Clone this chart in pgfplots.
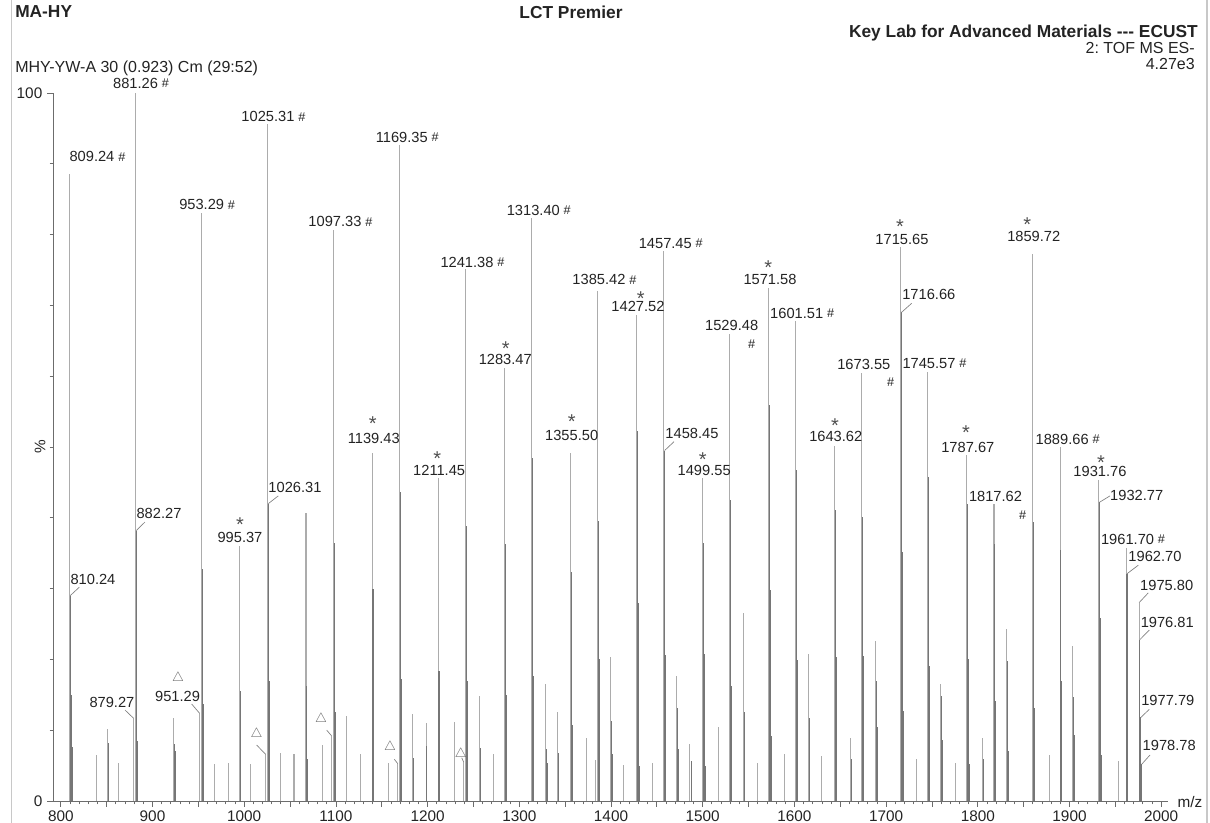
\documentclass[border=0pt]{standalone}
\usepackage{pgfplots}
\pgfplotsset{compat=1.18}
\usepackage{fontspec}
\setmainfont{Liberation Sans}
\definecolor{pkL}{RGB}{172,172,172}
\definecolor{pkD}{RGB}{118,118,118}
\definecolor{txt}{RGB}{35,35,35}
\definecolor{framec}{RGB}{200,200,200}

\begin{document}
\frenchspacing
\begin{tikzpicture}[
  lab/.style={font=\fontsize{11}{11}\selectfont, inner sep=0pt, text=txt},
  sh/.style={label={[inner sep=0pt, label distance=2.5pt, font=\fontsize{9.5}{9.5}\selectfont, text=txt]east:\#}},
  ast/.style={font=\fontsize{15}{15}\selectfont, inner sep=0pt, text=txt!80, anchor=base},
  tri/.style={inner sep=0pt, text=txt!70, font=\fontsize{10}{10}\selectfont},
  lead/.style={draw=gray, line width=0.5pt},
]
\useasboundingbox (0,0) rectangle (907.5pt,617.25pt);
\draw[framec, line width=0.8pt] (8.8pt,0) -- (8.8pt,617.25pt);
\draw[framec, line width=0.8pt] (905.25pt,0) -- (905.25pt,617.25pt);

\begin{axis}[
  at={(39.75pt,16.5pt)}, anchor=south west,
  width=836.25pt, height=531pt, scale only axis,
  xmin=791.5, xmax=2007.4, ymin=0, ymax=100,
  axis lines*=left,
  axis line style={draw=gray!85!black, line width=0.7pt},
  clip=false,
  xtick={800,900,...,2000},
  extra x ticks={850,950,...,1950},
  extra x tick labels={},
  minor x tick num=9,
  ytick={0,100},
  minor ytick={10,20,...,90},
  tick align=outside,
  major tick length=4.5pt,
  minor tick length=2.5pt,
  tick style={draw=gray!85!black, line width=0.6pt},
  /pgf/number format/.cd, 1000 sep={}, assume math mode=true,
  /pgfplots/.cd,
  tick label style={font=\fontsize{11.5}{12}\selectfont, text=txt},
  xticklabel style={yshift=1pt},
]

% mono-isotopic and isolated peaks
\addplot[pkL, line width=0.8pt, ycomb] coordinates {
(809.24,88.6) (839.3,6.5) (851.3,10.2) (863.3,5.4) (879.27,11.7) (881.26,100)
(923.3,11.7) (951.29,12.4) (953.29,83.1) (967.3,5.2) (983.3,5.4) (995.37,36.0)
(1007.3,5.2) (1023.3,6.6) (1025.31,95.6) (1039.3,6.8) (1054.3,6.6) (1067.39,40.7)
(1085.3,7.9) (1095.3,9.2) (1097.33,80.6) (1111.3,12.0) (1127.3,6.6) (1139.43,49.2)
(1157.3,5.4) (1167.3,5.3) (1169.35,92.6) (1183.3,12.3) (1198.3,11.0) (1211.45,45.6)
(1229.4,11.2) (1239.3,5.5) (1241.38,75.1) (1256.4,14.9) (1271.4,6.6) (1283.47,61.1)
(1313.40,82.4) (1328.4,16.5) (1341.4,12.5) (1355.50,49.2) (1373.4,8.9) (1383.4,5.8)
(1385.42,72.1) (1399.4,20.4) (1413.4,5.1) (1427.52,68.6) (1445.4,5.3) (1457.45,77.7)
(1471.5,17.6) (1485.5,8.0) (1499.55,45.6) (1517.5,10.5) (1529.48,65.9) (1544.3,26.5)
(1559.5,5.3) (1571.58,72.4) (1589.5,6.7) (1601.51,67.8) (1615.5,20.7) (1629.5,6.4)
(1643.62,50.2) (1661.6,8.9) (1673.55,60.5) (1688.6,22.6) (1715.65,78.3) (1733.6,5.9)
(1745.57,60.6) (1759.6,16.5) (1775.6,5.4) (1787.67,48.8) (1805.6,8.9) (1817.62,41.9)
(1831.7,24.3) (1859.72,77.3) (1877.7,6.5) (1889.66,50.0) (1903.7,21.9) (1931.76,45.3)
(1953.7,5.6) (1961.70,35.8) (1975.80,28.0)
};

% isotope companions
\addplot[pkD, line width=0.8pt, ycomb] coordinates {
(810.24,29.0) (811.24,15.0) (812.24,7.6) (852.3,8.2) (882.27,38.2) (883.27,8.5)
(924.3,8.1) (925.3,7.0) (954.29,32.8) (955.29,13.7) (996.37,15.5) (1026.31,42.0)
(1027.31,17.0) (1068.4,16.3) (1069.4,6.0) (1098.33,36.4) (1099.33,12.5) (1140.43,30.0)
(1141.43,12.6) (1170.35,43.6) (1171.35,17.2) (1184.3,6.1) (1199.3,7.8) (1212.45,18.4)
(1213.45,12.5) (1242.38,38.9) (1243.38,16.9) (1257.4,7.5) (1284.47,36.3) (1285.47,15.0)
(1314.40,48.5) (1315.40,17.7) (1329.4,7.3) (1330.4,5.4) (1342.4,6.8) (1356.50,32.3)
(1357.50,10.7) (1386.42,39.6) (1387.42,20.0) (1400.4,11.3) (1401.4,6.6) (1428.52,52.3)
(1429.52,27.9) (1430.52,4.9) (1458.45,49.5) (1459.45,20.6) (1472.5,13.1) (1473.5,7.4)
(1487.5,5.7) (1500.55,36.4) (1501.55,20.8) (1502.55,5.0) (1530.48,42.5) (1531.48,16.3)
(1545.3,12.6) (1572.58,56.0) (1573.58,29.8) (1574.58,9.2) (1602.51,46.7) (1603.51,19.9)
(1616.5,11.7) (1644.62,41.1) (1645.62,20.4) (1662.6,6.0) (1674.55,40.1) (1675.55,20.5)
(1689.6,17.0) (1690.6,10.4) (1716.66,69.0) (1717.66,35.1) (1718.66,12.7) (1746.57,45.8)
(1747.57,19.1) (1760.6,14.9) (1761.6,8.6) (1788.67,41.9) (1789.67,20.0) (1790.67,5.2)
(1806.6,6.0) (1818.62,36.3) (1819.62,14.1) (1832.7,19.8) (1833.7,7.1) (1860.72,39.4)
(1861.72,13.2) (1890.66,35.4) (1891.66,16.9) (1904.7,14.7) (1905.7,9.3) (1932.77,42.2)
(1933.77,25.9) (1934.77,6.5) (1962.70,32.1) (1963.70,15.8) (1976.81,22.8) (1977.79,11.8)
(1978.78,5.2)
};

% peak labels marked #
\node[lab, sh] at (axis cs:834.0,91.0) {809.24};
\node[lab, sh] at (axis cs:881.5,101.4) {881.26};
\node[lab, sh] at (axis cs:953.65,84.2) {953.29};
\node[lab, sh] at (axis cs:1025.96,96.65) {1025.31};
\node[lab, sh] at (axis cs:1099.0,81.8) {1097.33};
\node[lab, sh] at (axis cs:1171.8,93.7) {1169.35};
\node[lab, sh] at (axis cs:1243.0,76.1) {1241.38};
\node[lab, sh] at (axis cs:1315.3,83.4) {1313.40};
\node[lab, sh] at (axis cs:1386.9,73.6) {1385.42};
\node[lab, sh] at (axis cs:1459.2,78.8) {1457.45};
\node[lab, sh] at (axis cs:1602.5,68.9) {1601.51};
\node[lab, sh] at (axis cs:1746.8,61.8) {1745.57};
\node[lab, sh] at (axis cs:1892.0,51.1) {1889.66};
\node[lab, sh] at (axis cs:1963.3,37.0) {1961.70};
\node[lab] at (axis cs:1531.6,67.1) {1529.48};
\node[lab, font=\fontsize{9.5}{9.5}\selectfont] at (axis cs:1553.4,64.55) {\#};
\node[lab] at (axis cs:1675.7,61.7) {1673.55};
\node[lab, font=\fontsize{9.5}{9.5}\selectfont] at (axis cs:1705.0,59.2) {\#};
\node[lab] at (axis cs:1819.3,43.0) {1817.62};
\node[lab, font=\fontsize{9.5}{9.5}\selectfont] at (axis cs:1849.0,40.4) {\#};

% peak labels marked * (the asterisk box is smashed, so its baseline is placed)
\node[lab] at (axis cs:995.4,37.2) {995.37};
\node[ast] at (axis cs:995.4,38.0) {\smash{*}};
\node[lab] at (axis cs:1141.3,51.2) {1139.43};
\node[ast] at (axis cs:1140.1,52.3) {\smash{*}};
\node[lab] at (axis cs:1212.6,46.65) {1211.45};
\node[ast] at (axis cs:1210.6,47.4) {\smash{*}};
\node[lab] at (axis cs:1284.7,62.3) {1283.47};
\node[ast] at (axis cs:1285.2,62.9) {\smash{*}};
\node[lab] at (axis cs:1357.1,51.7) {1355.50};
\node[ast] at (axis cs:1357.1,52.6) {\smash{*}};
\node[lab] at (axis cs:1429.4,69.8) {1427.52};
\node[ast] at (axis cs:1432.4,70.0) {\smash{*}};
\node[lab] at (axis cs:1501.6,46.75) {1499.55};
\node[ast] at (axis cs:1500.0,47.2) {\smash{*}};
\node[lab] at (axis cs:1573.4,73.6) {1571.58};
\node[ast] at (axis cs:1571.5,74.3) {\smash{*}};
\node[lab] at (axis cs:1645.1,51.5) {1643.62};
\node[ast] at (axis cs:1644.3,52.1) {\smash{*}};
\node[lab] at (axis cs:1717.3,79.3) {1715.65};
\node[ast] at (axis cs:1715.1,80.1) {\smash{*}};
\node[lab] at (axis cs:1789.1,50.0) {1787.67};
\node[ast] at (axis cs:1787.1,51.0) {\smash{*}};
\node[lab] at (axis cs:1861.0,79.7) {1859.72};
\node[ast] at (axis cs:1854.0,80.5) {\smash{*}};
\node[lab] at (axis cs:1933.2,46.5) {1931.76};
\node[ast] at (axis cs:1934.3,46.8) {\smash{*}};

% labels with leader lines
\node[lab] at (axis cs:835.1,31.3) {810.24};
\draw[lead] (axis cs:810.24,29.0) -- (axis cs:820.2,30.2);
\node[lab] at (axis cs:907.1,40.6) {882.27};
\draw[lead] (axis cs:882.27,38.2) -- (axis cs:891.8,39.4);
\node[lab] at (axis cs:855.8,13.9) {879.27};
\draw[lead] (axis cs:870.0,12.85) -- (axis cs:879.27,11.7);
\node[lab] at (axis cs:927.3,14.8) {951.29};
\draw[lead] (axis cs:942.7,13.7) -- (axis cs:951.29,12.4);
\node[lab] at (axis cs:1055.4,44.3) {1026.31};
\draw[lead] (axis cs:1026.31,42.0) -- (axis cs:1037.2,43.1);
\node[lab] at (axis cs:1488.3,51.9) {1458.45};
\draw[lead] (axis cs:1458.45,49.5) -- (axis cs:1468.7,50.75);
\node[lab] at (axis cs:1746.6,71.5) {1716.66};
\draw[lead] (axis cs:1716.66,69.0) -- (axis cs:1727.9,70.3);
\node[lab] at (axis cs:1973.3,43.2) {1932.77};
\draw[lead] (axis cs:1932.77,42.2) -- (axis cs:1944.2,43.1);
\node[lab] at (axis cs:1993.2,34.5) {1962.70};
\draw[lead] (axis cs:1962.70,32.1) -- (axis cs:1975.0,33.3);
\node[lab] at (axis cs:2006.0,30.5) {1975.80};
\draw[lead] (axis cs:1975.80,28.0) -- (axis cs:1985.9,29.4);
\node[lab] at (axis cs:2006.6,25.2) {1976.81};
\draw[lead] (axis cs:1976.81,22.8) -- (axis cs:1987.0,24.15);
\node[lab] at (axis cs:2007.2,14.2) {1977.79};
\draw[lead] (axis cs:1977.79,11.8) -- (axis cs:1987.0,12.95);
\node[lab] at (axis cs:2008.7,7.8) {1978.78};
\draw[lead] (axis cs:1978.78,5.2) -- (axis cs:1987.8,6.5);

% open triangles
\node[tri] at (axis cs:927.8,17.4) {$\triangle$};
\node[tri] at (axis cs:1013.6,9.5) {$\triangle$};
\draw[lead] (axis cs:1013.6,7.9) -- (axis cs:1023.3,6.6);
\node[tri] at (axis cs:1083.75,11.6) {$\triangle$};
\draw[lead] (axis cs:1090.0,10.0) -- (axis cs:1095.3,9.2);
\node[tri] at (axis cs:1159.0,7.6) {$\triangle$};
\draw[lead] (axis cs:1163.7,5.9) -- (axis cs:1167.3,5.3);
\node[tri] at (axis cs:1236.1,6.6) {$\triangle$};
\draw[lead] (axis cs:1237.2,6.1) -- (axis cs:1239.3,5.5);

% axis titles
\node[lab, font=\fontsize{11.5}{12}\selectfont, rotate=90] at (axis cs:777.3,50) {\%};
\node[lab, font=\fontsize{11.5}{12}\selectfont] at (axis cs:2031.4,-0.2) {m/z};
\end{axis}

% header
\node[anchor=west, inner sep=0pt, text=txt, font=\bfseries\fontsize{13}{13}\selectfont] at (11.25pt,608.25pt) {MA-HY};
\node[inner sep=0pt, text=txt, font=\bfseries\fontsize{13}{13}\selectfont] at (428.25pt,608.25pt) {LCT Premier};
\node[anchor=east, inner sep=0pt, text=txt, font=\bfseries\fontsize{13}{13}\selectfont] at (898.5pt,592.5pt) {Key Lab for Advanced Materials -{}-{}- ECUST};
\node[anchor=west, inner sep=0pt, text=txt, font=\fontsize{12}{12}\selectfont] at (11.25pt,566.25pt) {MHY-YW-A 30 (0.923) Cm (29:52)};
\node[anchor=east, inner sep=0pt, text=txt, font=\fontsize{12}{12}\selectfont] at (896.25pt,581.25pt) {2: TOF MS ES-};
\node[anchor=east, inner sep=0pt, text=txt, font=\fontsize{12}{12}\selectfont] at (896.25pt,569.25pt) {4.27e3};
\end{tikzpicture}
\end{document}
